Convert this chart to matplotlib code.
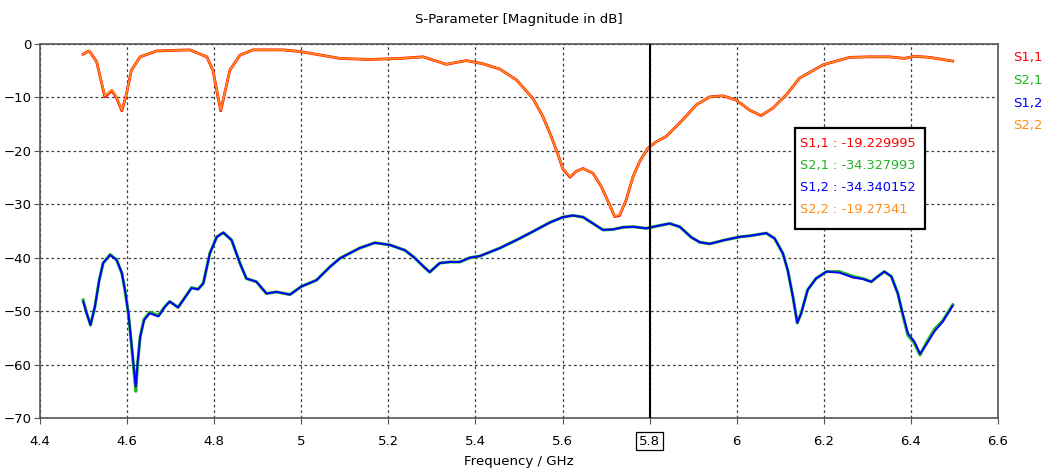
import matplotlib
matplotlib.use("Agg")
import matplotlib.pyplot as plt
from matplotlib.patches import Rectangle

# ---- data ----
f_refl = [4.499, 4.513, 4.530, 4.549, 4.565, 4.576, 4.588, 4.597, 4.610, 4.630, 4.668,
          4.744, 4.783, 4.797, 4.815, 4.836, 4.859, 4.889, 4.958, 4.997, 5.089, 5.157,
          5.226, 5.280, 5.333, 5.379, 5.417, 5.456, 5.494, 5.532, 5.555, 5.574, 5.590,
          5.601, 5.617, 5.632, 5.647, 5.670, 5.689, 5.708, 5.720, 5.731, 5.746, 5.762,
          5.777, 5.796, 5.815, 5.838, 5.876, 5.907, 5.938, 5.968, 5.999, 6.030, 6.056,
          6.083, 6.114, 6.144, 6.198, 6.259, 6.305, 6.351, 6.385, 6.408, 6.443, 6.496]
s22 = [-1.9, -1.3, -3.3, -9.7, -8.6, -10.0, -12.4, -9.9, -4.9, -2.4, -1.3,
       -1.1, -2.4, -4.9, -12.4, -4.9, -2.1, -1.1, -1.1, -1.4, -2.7, -2.9,
       -2.7, -2.4, -3.8, -3.1, -3.7, -4.7, -6.7, -10.2, -13.6, -17.3, -20.8,
       -23.3, -24.8, -23.8, -23.3, -24.2, -26.7, -30.1, -32.2, -32.0, -29.2, -24.8,
       -22.0, -19.5, -18.3, -17.3, -14.2, -11.4, -9.9, -9.7, -10.5, -12.4, -13.4,
       -12.0, -9.5, -6.4, -3.9, -2.5, -2.4, -2.4, -2.7, -2.3, -2.5, -3.2]
s11 = [-1.9, -1.3, -3.3, -9.9, -8.7, -10.1, -12.5, -9.9, -4.9, -2.4, -1.3,
       -1.1, -2.4, -4.9, -12.5, -4.9, -2.1, -1.1, -1.1, -1.4, -2.7, -2.9,
       -2.7, -2.4, -3.8, -3.1, -3.7, -4.7, -6.7, -10.2, -13.6, -17.3, -20.8,
       -23.4, -24.9, -23.8, -23.3, -24.2, -26.7, -30.1, -32.3, -32.1, -29.2, -24.8,
       -22.0, -19.5, -18.3, -17.3, -14.2, -11.4, -9.9, -9.7, -10.5, -12.4, -13.4,
       -12.0, -9.5, -6.4, -3.9, -2.5, -2.4, -2.4, -2.7, -2.3, -2.5, -3.2]

f_trans = [4.499, 4.507, 4.516, 4.526, 4.536, 4.545, 4.561, 4.576, 4.588, 4.595, 4.603,
           4.610, 4.616, 4.620, 4.624, 4.630, 4.639, 4.652, 4.672, 4.687, 4.698, 4.717,
           4.729, 4.748, 4.763, 4.775, 4.790, 4.806, 4.821, 4.840, 4.859, 4.874, 4.897,
           4.920, 4.943, 4.974, 5.000, 5.035, 5.066, 5.089, 5.134, 5.169, 5.203, 5.238,
           5.260, 5.284, 5.295, 5.318, 5.341, 5.364, 5.387, 5.410, 5.456, 5.494, 5.532,
           5.571, 5.601, 5.624, 5.647, 5.670, 5.693, 5.716, 5.739, 5.762, 5.792, 5.815,
           5.846, 5.869, 5.896, 5.915, 5.938, 5.972, 6.007, 6.030, 6.068, 6.087, 6.106,
           6.117, 6.129, 6.139, 6.148, 6.163, 6.182, 6.206, 6.236, 6.267, 6.290, 6.309,
           6.324, 6.339, 6.355, 6.370, 6.381, 6.393, 6.408, 6.421, 6.435, 6.454, 6.473,
           6.496]
s12 = [-48.2, -50.4, -52.6, -49.2, -44.2, -41.0, -39.5, -40.4, -42.9, -46.0, -50.4,
       -56.0, -61.0, -64.1, -59.8, -54.8, -51.7, -50.4, -51.0, -49.2, -48.2, -49.3,
       -47.9, -45.7, -45.9, -44.8, -39.2, -36.1, -35.3, -36.7, -41.0, -43.9, -44.5,
       -46.7, -46.4, -46.9, -45.4, -44.2, -41.7, -40.1, -38.2, -37.2, -37.6, -38.6,
       -40.0, -41.9, -42.7, -41.0, -40.8, -40.8, -40.0, -39.7, -38.2, -36.7, -35.1,
       -33.4, -32.4, -32.1, -32.4, -33.6, -34.8, -34.7, -34.3, -34.2, -34.5, -34.1,
       -33.6, -34.2, -36.2, -37.1, -37.4, -36.7, -36.1, -35.9, -35.4, -36.4, -39.2,
       -42.3, -47.3, -52.2, -50.4, -46.0, -43.9, -42.6, -42.8, -43.7, -44.0, -44.5,
       -43.5, -42.6, -43.5, -46.7, -50.4, -54.1, -55.7, -58.0, -56.3, -53.8, -52.0,
       -49.0]
s21 = [-47.9, -50.3, -52.6, -49.2, -44.2, -41.0, -39.4, -40.4, -42.9, -46.0, -50.5,
       -56.2, -61.5, -65.0, -60.0, -54.8, -51.5, -50.2, -50.8, -49.1, -48.2, -49.3,
       -47.9, -45.6, -45.9, -44.8, -39.2, -36.1, -35.3, -36.7, -41.0, -43.9, -44.5,
       -46.7, -46.4, -46.9, -45.4, -44.2, -41.7, -40.1, -38.2, -37.2, -37.6, -38.6,
       -40.0, -41.9, -42.7, -41.0, -40.8, -40.8, -40.0, -39.7, -38.2, -36.7, -35.1,
       -33.4, -32.4, -32.1, -32.4, -33.6, -34.8, -34.7, -34.3, -34.2, -34.5, -34.1,
       -33.6, -34.2, -36.2, -37.1, -37.4, -36.7, -36.1, -35.9, -35.4, -36.4, -39.2,
       -42.3, -47.3, -52.2, -50.4, -46.0, -43.9, -42.6, -42.6, -43.5, -43.9, -44.5,
       -43.5, -42.6, -43.5, -46.7, -50.6, -54.5, -56.0, -58.2, -56.0, -53.4, -51.8,
       -48.8]

x_ticks = [4.4, 4.6, 4.8, 5.0, 5.2, 5.4, 5.6, 5.8, 6.0, 6.2, 6.4, 6.6]
x_tick_labels = ["4.4", "4.6", "4.8", "5", "5.2", "5.4", "5.6", "5.8", "6", "6.2", "6.4", "6.6"]
y_ticks = [0, -10, -20, -30, -40, -50, -60, -70]
marker_freq = 5.8
series_names = ["S1,1", "S2,1", "S1,2", "S2,2"]
marker_values = ["-19.229995", "-34.327993", "-34.340152", "-19.27341"]
colors = ["#ff0000", "#22b422", "#0000ff", "#ff8c1a"]

# ---- figure ----
plt.rcParams['font.family'] = ['DejaVu Sans']
fig = plt.figure(figsize=(10.45, 4.7), dpi=100)
ax = fig.add_axes([40/1045, 1-418/470, 958/1045, 374/470])

ax.plot(f_refl, s11, color=colors[0], lw=2.0, solid_joinstyle='round', zorder=3)
ax.plot(f_refl, s22, color=colors[3], lw=1.3, solid_joinstyle='round', zorder=4)
ax.plot(f_trans, s21, color=colors[1], lw=2.2, solid_joinstyle='round', zorder=3)
ax.plot(f_trans, s12, color=colors[2], lw=1.4, solid_joinstyle='round', zorder=4)

ax.axvline(marker_freq, color='black', lw=1.5, zorder=5)

ax.set_xlim(4.4, 6.6)
ax.set_ylim(-70, 0)
ax.set_xticks(x_ticks)
ax.set_xticklabels(x_tick_labels)
ax.set_yticks(y_ticks)
ax.grid(True, color='#404040', linestyle=(0, (2.2, 2.2)), lw=0.9)
for s in ax.spines.values():
    s.set_color('#555555')
    s.set_linewidth(1.2)
ax.tick_params(axis='both', labelsize=9.5, length=4, color='#555555', direction='out')
ax.tick_params(axis='x', pad=8)
ax.tick_params(axis='y', pad=2)

# boxed 5.8 label
for lbl in ax.get_xticklabels():
    if lbl.get_text() == "5.8":
        lbl.set_bbox(dict(facecolor='white', edgecolor='black', lw=0.9, pad=2.0))

fig.text(519/1045, 1-20/470, "S-Parameter [Magnitude in dB]", ha='center', va='center', fontsize=9.6)
fig.text(519/1045, 1-461/470, "Frequency / GHz", ha='center', va='center', fontsize=9.6)

# legend on the right
for i, (name, c) in enumerate(zip(series_names, colors)):
    fig.text(1013/1045, 1-(58+22.5*i)/470, name, color=c, ha='left', va='center', fontsize=9.5)

# marker value box
box = Rectangle((795/1045, 1-229/470), 130/1045, 101/470, transform=fig.transFigure,
                facecolor='white', edgecolor='black', lw=1.6, zorder=10)
fig.add_artist(box)
for i, (name, val, c) in enumerate(zip(series_names, marker_values, colors)):
    fig.text(800/1045, 1-(143+22*i)/470, f"{name} : {val}", color=c, ha='left', va='center',
             fontsize=9.3, zorder=11)

fig.savefig("out.png", dpi=100)
